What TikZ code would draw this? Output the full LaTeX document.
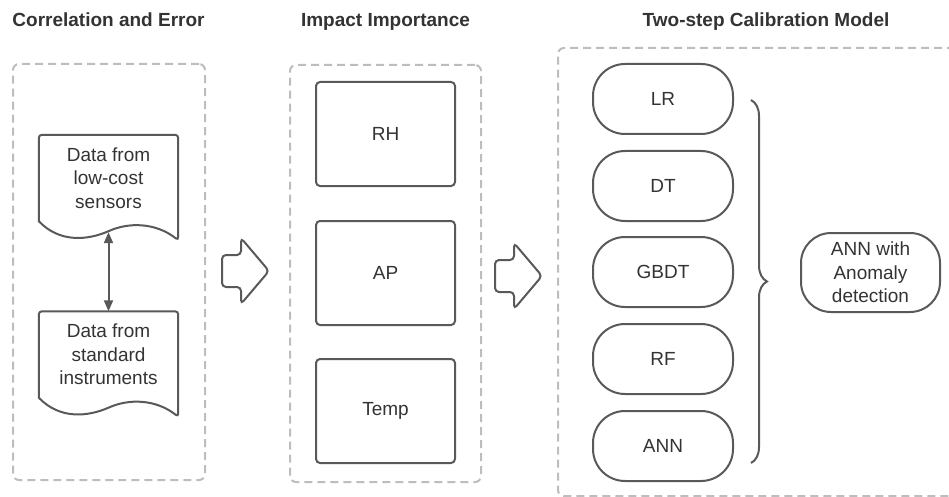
\documentclass[tikz,border=0pt]{standalone}
\usepackage{fontspec}
\setmainfont{Liberation Sans}
\usepackage{tikz}
\usetikzlibrary{positioning, arrows.meta, calc, decorations.pathreplacing}
\definecolor{edgegray}{RGB}{89,89,89}
\definecolor{dashgray}{RGB}{189,189,189}
\definecolor{ink}{RGB}{51,51,51}
\tikzset{style={font=\fontsize{19}{23.5}\selectfont}}

\begin{document}
\begin{tikzpicture}[x=1pt,y=-1pt,>={Triangle[length=11pt,width=9pt]},
                outline/.style={draw=edgegray,line width=2pt},
                panel/.style={draw=dashgray,line width=2pt,dash pattern=on 8pt off 5pt,rounded corners=6pt},
                doc/.style={minimum width=139pt,minimum height=86pt,align=center,inner sep=0pt},
                box/.style={outline,rounded corners=4pt,minimum width=139pt,minimum height=104pt},
                term/.style={outline,rounded corners=32pt,minimum width=140pt,minimum height=70pt,align=center},
                title/.style={font=\fontsize{19}{23}\selectfont\bfseries,anchor=base},ink]
                \useasboundingbox (0,0) rectangle (949,497);
                \node[title] (corr) at (108.5,27) {Correlation and Error};
                \node[title] (imp) at (385.5,27) {Impact Importance};
                \node[title] (calib) at (766,27) {Two-step Calibration Model};
                \node[panel,minimum width=192pt,minimum height=416pt] (p1) at (109,272) {};
                \node[panel,minimum width=191pt,minimum height=417pt] (p2) at (385.5,273.5) {};
                \node[panel,minimum width=416pt,minimum height=448pt] (p3) at (766,272) {};
                \node[doc] (low) at (108.5,178) {Data from\\low-cost\\sensors};
                \node[doc] (std) at (108.5,354.5) {Data from\\standard\\instruments};
                \foreach \n in {low,std}
                \draw[outline] (\n.south west) [rounded corners=3pt] |- (\n.north east)
                -- ([yshift=-19pt]\n.south east) [sharp corners]
                .. controls ([shift={(-23,1)}]\n.south east) and ([shift={(-50,1)}]\n.south east) .. ([yshift=-10pt]\n.south)
                .. controls ([shift={(49,19)}]\n.south west) and ([shift={(21,22)}]\n.south west) .. (\n.south west) -- cycle;
                \draw[<->,draw=edgegray,fill=edgegray,line width=2pt] ([yshift=-11pt]low.south) -- (std.north);
                \foreach \x/\y in {222/271,495/276}
                \draw[outline,rounded corners=4pt,shift={(\x,\y)}] (0,-16) -- (19,-16) -- (19,-33) -- (47,0)
                -- (19,33) -- (19,16) -- (0,16) -- cycle;
                \node[box] (rh) at (385.5,134) {RH};
                \node[box] (ap) at (385.5,273) {AP};
                \node[box] (temp) at (385.5,411) {Temp};
                \foreach \t/\y in {LR/99,DT/186,GBDT/272,RF/359,ANN/446}
                \node[term] (\t) at (663,\y) {\t};
                \draw[outline,decorate,decoration={brace,amplitude=16pt}] (751,100) -- (751,463);
                \node[term,minimum width=139pt,minimum height=79pt,rounded corners=30pt] (anomaly) at (870.5,272.5) {ANN with\\Anomaly\\detection};
            \end{tikzpicture}
\end{document}
